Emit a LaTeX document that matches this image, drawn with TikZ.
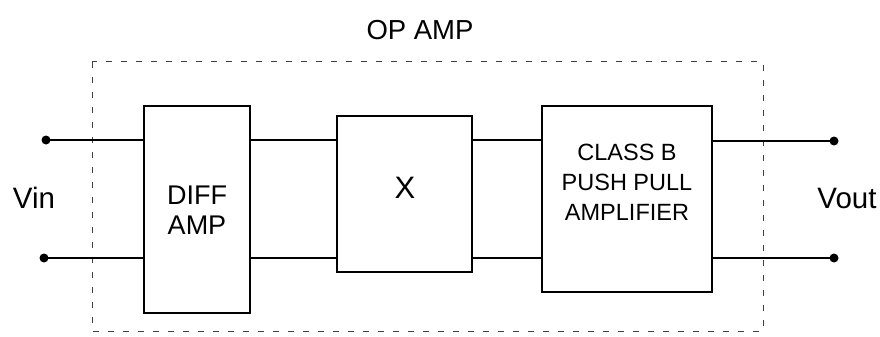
\documentclass[tikz,border=0pt]{standalone}
\usepackage{fontspec}
\setmainfont{Liberation Sans}
\begin{document}
\begin{tikzpicture}[x=1pt, y=-1pt, font=\fontsize{21}{25}\selectfont,
          block/.style={draw, line width=2.2pt, inner sep=0pt},
          wire/.style={line width=1.8pt},
          term/.style={circle, fill, inner sep=0pt, minimum size=9pt}]
        \useasboundingbox (0,0) rectangle (880,337);
        % op amp boundary
        \draw[black!75, line width=1pt, dash pattern=on 6pt off 9pt] (92,62) rectangle (763,331);
        \node[font=\fontsize{27.5}{30}\selectfont] (title) at (420,30) {OP AMP};
        % blocks
        \node[block, minimum width=106pt, minimum height=207pt] (diff) at (197,209.5) {};
        \node[block, minimum width=135pt, minimum height=156pt] (x) at (404.5,194) {};
        \node[block, minimum width=170pt, minimum height=186pt] (cls) at (627,199) {};
        \node[align=center, font=\fontsize{27}{30}\selectfont] (difftxt) at (197,210) {DIFF\\AMP};
        \node[font=\fontsize{31}{34}\selectfont] (xtxt) at (405,188) {X};
        \node[align=center, font=\fontsize{23.5}{30}\selectfont] (clstxt) at (627,182) {CLASS B\\PUSH PULL\\AMPLIFIER};
        % terminals
        \node[term] (in1) at (46,140) {};
        \node[term] (in2) at (44,258) {};
        \node[term] (out1) at (834,141) {};
        \node[term] (out2) at (834,258) {};
        \node[font=\fontsize{29.5}{32}\selectfont] (vin) at (34,198) {Vin};
        \node[font=\fontsize{29.5}{32}\selectfont] (vout) at (847,198) {Vout};
        % wiring
        \draw[wire] (in1.center) -- (in1 -| diff.west);
        \draw[wire] (in2.center) -- (in2 -| diff.west);
        \draw[wire] (diff.east |- in1) -- (x.west |- in1);
        \draw[wire] (diff.east |- in2) -- (x.west |- in2);
        \draw[wire] (x.east |- in1) -- (cls.west |- in1);
        \draw[wire] (x.east |- in2) -- (cls.west |- in2);
        \draw[wire] (cls.east |- out1) -- (out1.center);
        \draw[wire] (cls.east |- out2) -- (out2.center);
      \end{tikzpicture}
\end{document}
